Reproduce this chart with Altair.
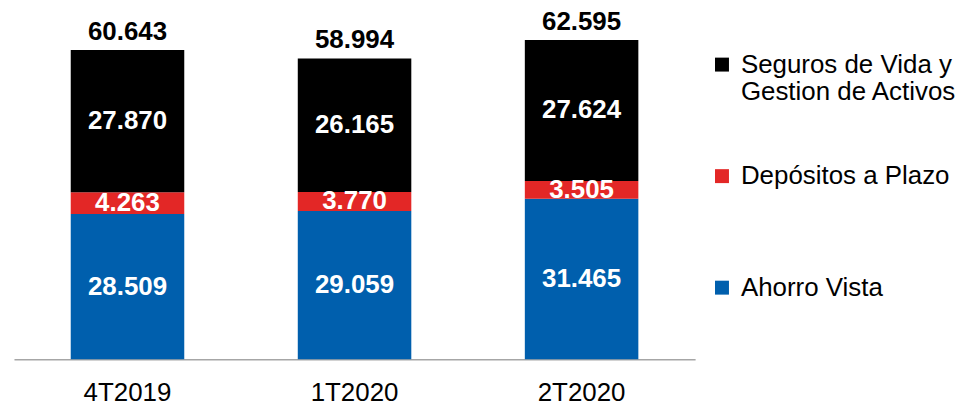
import altair as alt
import pandas as pd

quarters = ["4T2019", "1T2020", "2T2020"]
series = ["Seguros de Vida y Gestion de Activos", "Depósitos a Plazo", "Ahorro Vista"]
ahorro = [28509, 29059, 31465]
depositos = [4263, 3770, 3505]
seguros = [27870, 26165, 27624]
totals = [60643, 58994, 62595]
colors = ["#000000", "#E32726", "#005FAD"]

rows = []
for i, q in enumerate(quarters):
    for s, vals, o in [(series[2], ahorro, 0), (series[1], depositos, 1), (series[0], seguros, 2)]:
        rows.append({"q": q, "s": s, "v": vals[i], "o": o})
df = pd.DataFrame(rows)
tot = pd.DataFrame({"q": quarters, "t": totals})

FONT = "Liberation Sans"
fmt = "replace(format(datum.{f}, ','), ',', '.')"

x = alt.X("q:N", sort=quarters, title=None,
          scale=alt.Scale(paddingInner=0.5, paddingOuter=0.25),
          axis=alt.Axis(labelAngle=0, ticks=False, labelPadding=20, labelFontSize=26,
                        labelColor="#000000", domainColor="#a6a6a6", domainWidth=1.5,
                        labelFont=FONT, grid=False))
y_scale = alt.Scale(domain=[0, 65000])

bars = alt.Chart(df).mark_bar().encode(
    x=x,
    y=alt.Y("v:Q", stack="zero", scale=y_scale, axis=None),
    color=alt.Color("s:N", scale=alt.Scale(domain=series, range=colors),
                    legend=alt.Legend(
                        title=None, orient="none", legendX=698, legendY=24,
                        symbolType="square", symbolSize=196, symbolStrokeWidth=0,
                        labelFontSize=26, labelFont=FONT, labelColor="#000000",
                        labelLimit=0, labelOffset=6, rowPadding=58, padding=0,
                        labelExpr="datum.label == 'Seguros de Vida y Gestion de Activos' ? ['Seguros de Vida y', 'Gestion de Activos'] : [datum.label, ' ']")),
    order=alt.Order("o:Q"),
)

seg = alt.Chart(df).transform_stack(
    stack="v", groupby=["q"], as_=["v0", "v1"], sort=[alt.SortField("o")]
).transform_calculate(
    mid="(datum.v0 + datum.v1) / 2", lab=fmt.format(f="v")
).mark_text(color="white", fontSize=26, fontWeight="bold", font=FONT, baseline="middle").encode(
    x=alt.X("q:N", sort=quarters),
    y=alt.Y("mid:Q", scale=y_scale),
    text="lab:N",
)

totl = alt.Chart(tot).transform_calculate(lab=fmt.format(f="t")).mark_text(
    color="black", fontSize=26, fontWeight="bold", font=FONT, baseline="alphabetic", dy=-10
).encode(
    x=alt.X("q:N", sort=quarters),
    y=alt.Y("t:Q", scale=y_scale),
    text="lab:N",
)

chart = alt.layer(bars, seg, totl).properties(
    width=684, height=333,
    autosize=alt.AutoSizeParams(type="none"),
    padding={"left": 6, "top": 19, "right": 265, "bottom": 45},
).configure_view(stroke=None)

chart.save("out.html", embed_options={"renderer": "svg", "actions": False})
